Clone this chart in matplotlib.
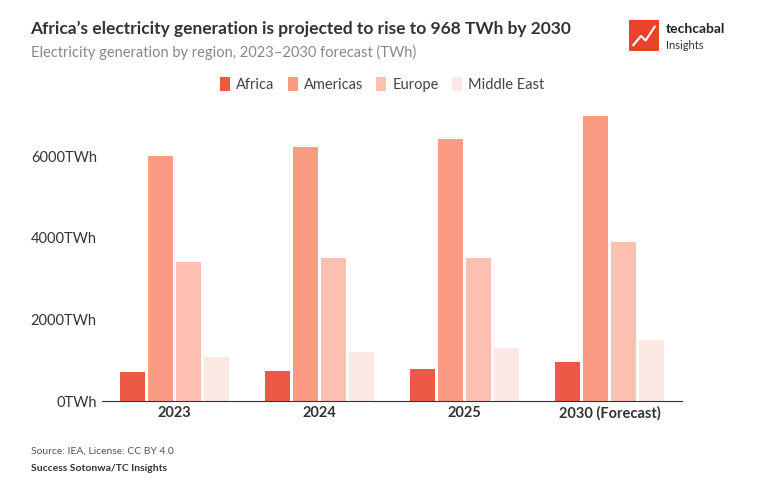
import numpy as np
import matplotlib
matplotlib.use("Agg")
import matplotlib.pyplot as plt

years = ['2023', '2024', '2025', '2030 (Forecast)']
regions = ['Africa', 'Americas', 'Europe', 'Middle East']
africa = [710, 735, 780, 968]
americas = [6000, 6220, 6420, 7000]
europe = [3400, 3500, 3500, 3900]
middle_east = [1080, 1200, 1300, 1490]
colors = ['#ec5a45', '#fa9c83', '#fcc0b0', '#fde9e4']

plt.rcParams['font.family'] = ['Lato', 'DejaVu Sans']
fig = plt.figure(figsize=(7.64, 4.88), dpi=100)
ax = fig.add_axes([0.134, 0.178, 0.759, 0.602])

xs = np.arange(len(years))
w = 0.172
step = 0.193
series = [africa, americas, europe, middle_east]
for i, (name, vals) in enumerate(zip(regions, series)):
    ax.bar(xs + (i - 1.5) * step, vals, width=w, color=colors[i], label=name)

ax.set_ylim(0, 7200)
ax.set_yticks([0, 2000, 4000, 6000])
ax.set_yticklabels([f'{v}TWh' for v in [0, 2000, 4000, 6000]], fontsize=10.5, color='#333')
ax.set_xticks(xs)
ax.set_xticklabels(years, fontsize=10.5, fontweight='bold', color='#333')
ax.set_xlim(-0.5, 3.5)
for s in ['top', 'right', 'left']:
    ax.spines[s].set_visible(False)
ax.spines['bottom'].set_color('#333')
ax.tick_params(axis='y', length=0, pad=4)
ax.tick_params(axis='x', length=0)

leg = fig.legend(loc='upper center', bbox_to_anchor=(0.5, 0.87), ncol=4, frameon=False,
                 fontsize=10.5, handlelength=0.7, handleheight=1.1, columnspacing=0.9, handletextpad=0.4)
for t in leg.get_texts():
    t.set_color('#444')

fig.text(0.04, 0.93, 'Africa\u2019s electricity generation is projected to rise to 968 TWh by 2030',
         fontsize=12.5, fontweight='bold', color='#333')
fig.text(0.04, 0.883, 'Electricity generation by region, 2023\u20132030 forecast (TWh)',
         fontsize=10.5, color='#888')
fig.text(0.04, 0.07, 'Source: IEA, License: CC BY 4.0', fontsize=7.5, color='#555')
fig.text(0.04, 0.035, 'Success Sotonwa/TC Insights', fontsize=7.5, fontweight='bold', color='#333')

# logo
lax = fig.add_axes([0.823, 0.895, 0.04, 0.063])
lax.add_patch(plt.Rectangle((0, 0), 1, 1, color='#e8412c'))
lax.plot([0.15, 0.4, 0.55, 0.85], [0.2, 0.5, 0.35, 0.8], color='white', lw=1.5)
lax.set_xlim(0, 1); lax.set_ylim(0, 1); lax.axis('off')
fig.text(0.872, 0.932, 'techcabal', fontsize=10, fontweight='bold', color='#222')
fig.text(0.872, 0.9, 'Insights', fontsize=8, color='#333')

fig.savefig('out.png', dpi=100, facecolor='white')
